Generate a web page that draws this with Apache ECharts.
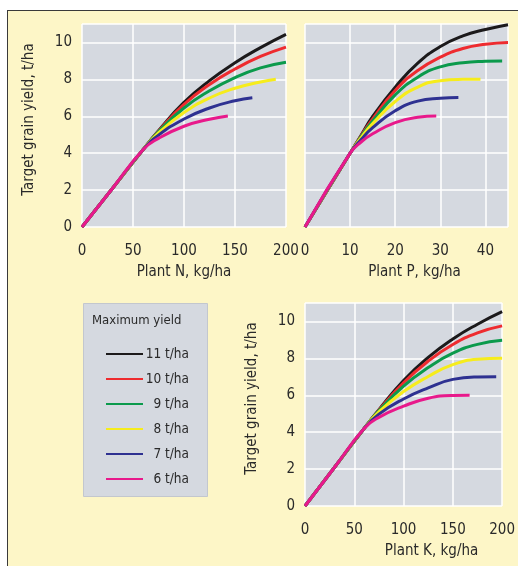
<!DOCTYPE html>
<html><head><meta charset="utf-8">
<script src="https://cdn.jsdelivr.net/npm/echarts@6/dist/echarts.min.js"></script>
<style>
html,body{margin:0;padding:0;background:#fff;overflow:hidden;width:518px;height:566px;}
#frame{position:absolute;left:7px;top:10px;width:530px;height:580px;background:#fdf6c7;border-top:1.5px solid #3a3a3a;border-left:1.5px solid #3a3a3a;box-sizing:border-box}
#chart{position:absolute;left:0;top:0;width:518px;height:566px;}
</style></head><body>
<div id="frame"></div><div id="chart"></div>
<script>
// ---- data ----
const maxYields = ['11 t/ha', '10 t/ha', '9 t/ha', '8 t/ha', '7 t/ha', '6 t/ha'];
const yTicks = [0, 2, 4, 6, 8, 10];
const nkTicks = [0, 50, 100, 150, 200];
const pTicks = [0, 10, 20, 30, 40];

// Plant N curves [kg/ha, t/ha]
const nStart = [[0, 0], [30, 2.1], [60, 4.2]];
const n11 = [[75, 5.22], [100, 6.75], [125, 7.93], [150, 8.9], [175, 9.72], [200, 10.44]];
const n10 = [[75, 5.2], [100, 6.64], [125, 7.72], [150, 8.56], [175, 9.24], [200, 9.75]];
const n9 = [[75, 5.17], [100, 6.45], [125, 7.38], [150, 8.1], [175, 8.62], [200, 8.93]];
const n8 = [[75, 5.1], [100, 6.2], [125, 6.99], [150, 7.52], [175, 7.86], [190, 8.01]];
const n7 = [[75, 4.98], [100, 5.85], [125, 6.45], [150, 6.84], [167, 7.0]];
const n6 = [[75, 4.8], [100, 5.46], [125, 5.84], [143, 6.02]];

// Plant P curves
const pStart = [[0, 0], [10, 4.0]];
const p11 = [[12.5, 5.0], [15, 5.99], [20, 7.58], [25, 8.88], [30, 9.78], [35, 10.36], [40, 10.7], [45, 10.96]];
const p10 = [[12.5, 4.97], [15, 5.86], [20, 7.4], [25, 8.48], [30, 9.2], [35, 9.67], [40, 9.9], [45, 10.0]];
const p9 = [[12.5, 4.93], [15, 5.74], [20, 7.16], [25, 8.12], [30, 8.68], [35, 8.9], [40, 8.98], [43.7, 9.0]];
const p8 = [[12.5, 4.86], [15, 5.6], [20, 6.8], [25, 7.58], [30, 7.93], [35, 8.0], [38.9, 8.01]];
const p7 = [[12.5, 4.75], [15, 5.38], [20, 6.3], [25, 6.82], [30, 6.98], [34, 7.02]];
const p6 = [[12.5, 4.62], [15, 5.05], [20, 5.66], [25, 5.95], [29.1, 6.02]];

// Plant K curves
const kStart = [[0, 0], [30, 2.1], [60, 4.2]];
const k11 = [[75, 5.22], [100, 6.8], [125, 8.05], [150, 9.05], [175, 9.85], [200, 10.53]];
const k10 = [[75, 5.2], [100, 6.68], [125, 7.85], [150, 8.75], [175, 9.38], [200, 9.76]];
const k9 = [[75, 5.17], [100, 6.5], [125, 7.5], [150, 8.28], [175, 8.76], [200, 8.98]];
const k8 = [[75, 5.1], [100, 6.2], [125, 7.02], [150, 7.66], [175, 7.95], [200, 8.0]];
const k7 = [[75, 4.98], [100, 5.8], [125, 6.4], [150, 6.86], [175, 6.99], [194, 7.0]];
const k6 = [[75, 4.8], [100, 5.41], [125, 5.84], [150, 5.99], [167, 6.0]];

// ---- styling ----
const FONT = "'DejaVu Sans Condensed','Liberation Sans',sans-serif";
const TXT = '#2a2a2a';
const colors = ['#1c1a1b', '#ee2b2f', '#0b9a4c', '#f6ec1c', '#2e3191', '#e8198b'];
const PLOT_BG = '#d5d9e0';

const chart = echarts.init(document.getElementById('chart'), null, {renderer: 'canvas'});

function xAxis(gi, max, interval, ticks, name, pad) {
  return {
    type: 'value', gridIndex: gi, min: 0, max: max, interval: interval,
    name: name, nameLocation: 'middle', nameGap: 38,
    nameTextStyle: {fontFamily: FONT, fontSize: 15, color: TXT, padding: pad},
    axisLine: {show: false}, axisTick: {show: false},
    axisLabel: {margin: 17, fontFamily: FONT, fontSize: 15, color: TXT,
      formatter: v => ticks.includes(v) ? String(v) : ''},
    splitLine: {show: true, lineStyle: {color: '#ffffff', width: 1.5}}
  };
}
function yAxis(gi, showLabels, name) {
  return {
    type: 'value', gridIndex: gi, min: 0, max: 11, interval: 2,
    name: showLabels ? name : '', nameLocation: 'middle', nameGap: 45, nameRotate: 90,
    nameTextStyle: {fontFamily: FONT, fontSize: 15, color: TXT, padding: [0, 0, 0, 12]},
    axisLine: {show: false}, axisTick: {show: false},
    axisLabel: {show: showLabels, margin: 10, fontFamily: FONT, fontSize: 15, color: TXT,
      formatter: v => yTicks.includes(v) ? String(v) : ''},
    splitLine: {show: true, lineStyle: {color: '#ffffff', width: 1.5}}
  };
}

const curveSets = [
  [nStart, [n11, n10, n9, n8, n7, n6]],
  [pStart, [p11, p10, p9, p8, p7, p6]],
  [kStart, [k11, k10, k9, k8, k7, k6]]
];
const series = [];
curveSets.forEach(([start, curves], gi) => {
  curves.forEach((c, i) => {
    series.push({
      type: 'line', name: maxYields[i], xAxisIndex: gi, yAxisIndex: gi,
      data: start.concat(c), smooth: 0.5,
      showSymbol: false, symbol: 'none', silent: true,
      lineStyle: {color: colors[i], width: 3}, itemStyle: {color: colors[i]}
    });
  });
});

chart.setOption({
  animation: false,
  grid: [
    {left: 82, top: 24, width: 204, height: 203, show: true, backgroundColor: PLOT_BG, borderWidth: 0},
    {left: 305, top: 24, width: 203, height: 203, show: true, backgroundColor: PLOT_BG, borderWidth: 0},
    {left: 305, top: 303, width: 203, height: 203, show: true, backgroundColor: PLOT_BG, borderWidth: 0}
  ],
  xAxis: [
    xAxis(0, 200, 50, nkTicks, 'Plant N, kg/ha', [0, 0, 0, 0]),
    xAxis(1, 45, 10, pTicks, 'Plant P, kg/ha', [0, 0, 0, 16]),
    xAxis(2, 200, 50, nkTicks, 'Plant K, kg/ha', [0, 0, 0, 56])
  ],
  yAxis: [
    yAxis(0, true, 'Target grain yield, t/ha'),
    yAxis(1, false, ''),
    yAxis(2, true, 'Target grain yield, t/ha')
  ],
  graphic: [
    {type: 'rect', left: 83, top: 303, shape: {width: 124, height: 193},
     style: {fill: PLOT_BG, stroke: '#c3c7ce', lineWidth: 1}, z: 0},
    {type: 'text', left: 92, top: 314,
     style: {text: 'Maximum yield', font: '13px ' + FONT, fill: TXT}, z: 1}
  ],
  legend: {
    data: maxYields, orient: 'vertical', left: 101, top: 341,
    icon: 'rect', itemWidth: 37, itemHeight: 2, itemGap: 9, selectedMode: false,
    formatter: name => '{r|' + name + '}',
    textStyle: {fontFamily: FONT, fontSize: 13.5, color: TXT, lineHeight: 16,
      rich: {r: {width: 41, align: 'right', fontFamily: FONT, fontSize: 13.5, color: TXT, lineHeight: 16}}}
  },
  series: series
});
</script></body></html>
